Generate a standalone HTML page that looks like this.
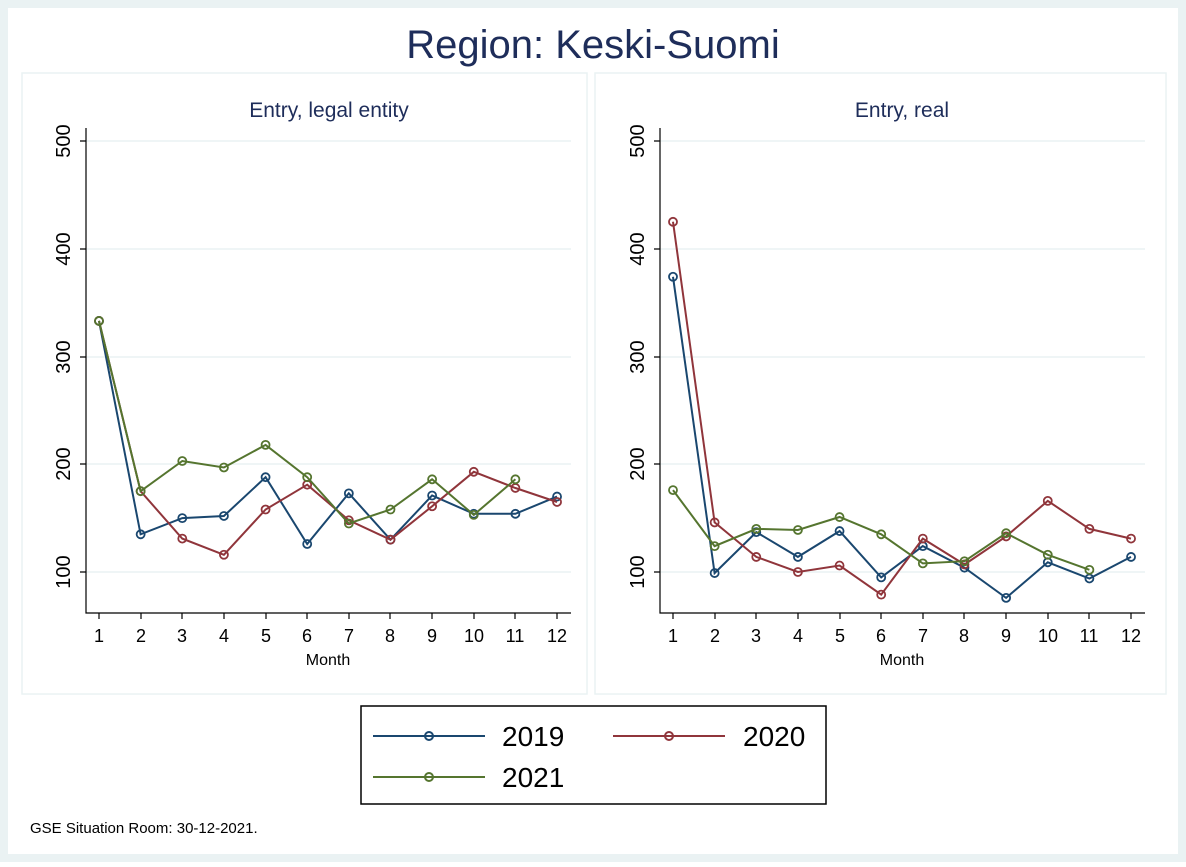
<!DOCTYPE html>
<html><head><meta charset="utf-8"><style>
html,body{margin:0;padding:0;background:#fff}
svg text{font-family:"Liberation Sans",Arial,sans-serif}
</style></head><body>
<svg id="s" width="1186" height="862" viewBox="0 0 1186 862" xmlns="http://www.w3.org/2000/svg">
<rect x="0" y="0" width="1186" height="862" fill="#eaf2f3"/>
<rect x="8" y="8" width="1170" height="846" fill="#fff"/>
<text x="593" y="58" font-size="40" fill="#1e2d5a" text-anchor="middle">Region: Keski-Suomi</text>
<rect x="22" y="73" width="565" height="621" fill="#fff" stroke="#eaf2f3" stroke-width="1.5"/>
<rect x="595" y="73" width="571" height="621" fill="#fff" stroke="#eaf2f3" stroke-width="1.5"/>
<text x="329" y="117" font-size="21" fill="#1e2d5a" text-anchor="middle">Entry, legal entity</text>
<text x="902" y="117" font-size="21" fill="#1e2d5a" text-anchor="middle">Entry, real</text>
<g stroke="#eaf2f3" stroke-width="1.5">
<line x1="86" x2="571" y1="141" y2="141"/><line x1="86" x2="571" y1="249" y2="249"/><line x1="86" x2="571" y1="357" y2="357"/><line x1="86" x2="571" y1="464" y2="464"/><line x1="86" x2="571" y1="572" y2="572"/>
<line x1="660" x2="1145" y1="141" y2="141"/><line x1="660" x2="1145" y1="249" y2="249"/><line x1="660" x2="1145" y1="357" y2="357"/><line x1="660" x2="1145" y1="464" y2="464"/><line x1="660" x2="1145" y1="572" y2="572"/>
</g>
<g stroke="#000" stroke-width="1.2" fill="none">
<path d="M86 128V613H571"/><path d="M660 128V613H1145"/>
<path d="M80 141H86M80 249H86M80 357H86M80 464H86M80 572H86"/>
<path d="M654 141H660M654 249H660M654 357H660M654 464H660M654 572H660"/>
<path id="xt" d="M99 613v6M141 613v6M182 613v6M224 613v6M266 613v6M307 613v6M349 613v6M390 613v6M432 613v6M474 613v6M515 613v6M557 613v6"/>
<use href="#xt" x="574"/>
</g>
<g font-size="20" fill="#000" text-anchor="middle">
<text transform="translate(70,141) rotate(-90)">500</text><text transform="translate(70,249) rotate(-90)">400</text><text transform="translate(70,357) rotate(-90)">300</text><text transform="translate(70,464) rotate(-90)">200</text><text transform="translate(70,572) rotate(-90)">100</text>
<text transform="translate(644,141) rotate(-90)">500</text><text transform="translate(644,249) rotate(-90)">400</text><text transform="translate(644,357) rotate(-90)">300</text><text transform="translate(644,464) rotate(-90)">200</text><text transform="translate(644,572) rotate(-90)">100</text>
</g>
<g font-size="18" fill="#000" text-anchor="middle" id="xl">
<text x="99" y="642">1</text><text x="141" y="642">2</text><text x="182" y="642">3</text><text x="224" y="642">4</text><text x="266" y="642">5</text><text x="307" y="642">6</text><text x="349" y="642">7</text><text x="390" y="642">8</text><text x="432" y="642">9</text><text x="474" y="642">10</text><text x="515" y="642">11</text><text x="557" y="642">12</text>
<text x="328" y="665" font-size="16">Month</text>
</g>
<use href="#xl" x="574"/>
<g id="series"></g>
<rect x="361" y="706" width="465" height="98" fill="#fff" stroke="#000" stroke-width="1.5"/>
<g stroke-width="2" fill="none">
<line x1="373" x2="485" y1="736" y2="736" stroke="#1a476f"/><circle cx="429" cy="736" r="4" stroke="#1a476f"/>
<line x1="613" x2="725" y1="736" y2="736" stroke="#90353b"/><circle cx="669" cy="736" r="4" stroke="#90353b"/>
<line x1="373" x2="485" y1="777" y2="777" stroke="#55752f"/><circle cx="429" cy="777" r="4" stroke="#55752f"/>
</g>
<g font-size="28" fill="#000">
<text x="502" y="746">2019</text><text x="743" y="746">2020</text><text x="502" y="787">2021</text>
</g>
<text x="30" y="833" font-size="15" fill="#000">GSE Situation Room: 30-12-2021.</text>
</svg>
<script>
var NS="http://www.w3.org/2000/svg",g=document.getElementById("series");
var data=[
[0,"#1a476f",[333,135,150,152,188,126,173,130,171,154,154,170]],
[0,"#90353b",[333,175,131,116,158,181,148,130,161,193,178,165]],
[0,"#55752f",[333,175,203,197,218,188,145,158,186,153,186]],
[574,"#1a476f",[374,99,137,114,138,95,124,104,76,109,94,114]],
[574,"#90353b",[425,146,114,100,106,79,131,107,133,166,140,131]],
[574,"#55752f",[176,124,140,139,151,135,108,110,136,116,102]]];
data.forEach(function(d){
 var pts=d[2].map(function(v,i){return [99+d[0]+i*41.64, 572-(v-100)*1.0775];});
 var pl=document.createElementNS(NS,"polyline");
 pl.setAttribute("points",pts.map(function(p){return p[0].toFixed(1)+","+p[1].toFixed(1)}).join(" "));
 pl.setAttribute("fill","none");pl.setAttribute("stroke",d[1]);pl.setAttribute("stroke-width","2");
 g.appendChild(pl);
 pts.forEach(function(p){var c=document.createElementNS(NS,"circle");
  c.setAttribute("cx",p[0]);c.setAttribute("cy",p[1]);c.setAttribute("r","4");
  c.setAttribute("fill","none");c.setAttribute("stroke",d[1]);c.setAttribute("stroke-width","1.8");g.appendChild(c);});
});
</script>
</body></html>
